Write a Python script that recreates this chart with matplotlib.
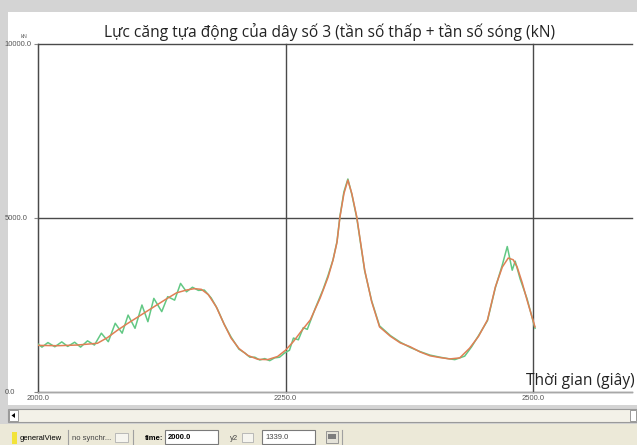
import numpy as np
import matplotlib
matplotlib.use('Agg')
import matplotlib.pyplot as plt
from matplotlib.patches import Rectangle, Polygon

W, H = 637, 445

# ── data ─────────────────────────────────────────────────
# low-frequency tension (orange)
time_lf = [2000, 2020, 2040, 2060, 2070, 2080, 2090, 2100, 2110, 2120, 2130,
           2140, 2150, 2158, 2165, 2172, 2180, 2188, 2195, 2203, 2212, 2222,
           2232, 2242, 2250, 2258, 2266, 2275, 2285, 2293, 2298, 2302, 2305,
           2309, 2313, 2317, 2322, 2330, 2337, 2345, 2356, 2366, 2376, 2386,
           2396, 2406, 2416, 2426, 2436, 2445, 2454, 2462, 2469, 2475, 2480,
           2484, 2489, 2494, 2502]
force_lf = [1340, 1330, 1350, 1400, 1560, 1770, 1960, 2140, 2320, 2500, 2680,
            2850, 2930, 2970, 2950, 2800, 2450, 1950, 1550, 1250, 1050, 940,
            930, 1020, 1200, 1450, 1750, 2070, 2700, 3300, 3790, 4300, 5030,
            5700, 6090, 5700, 5030, 3500, 2600, 1870, 1600, 1410, 1300, 1150,
            1040, 990, 950, 980, 1260, 1600, 2070, 3020, 3590, 3850, 3800,
            3590, 3150, 2640, 1870]

# total tension, low frequency + wave frequency (green)
time_total = [2000, 2004, 2010, 2017, 2024, 2030, 2037, 2043, 2050, 2057,
              2064, 2071, 2078, 2085, 2091, 2098, 2105, 2111, 2117, 2125,
              2131, 2138, 2144, 2150, 2156, 2162, 2168, 2175, 2181, 2188,
              2195, 2203, 2209, 2214, 2219, 2224, 2229, 2234, 2239, 2244,
              2249, 2254, 2258, 2263, 2268, 2272, 2280, 2288, 2293, 2298,
              2302, 2305, 2309, 2313, 2317, 2322, 2330, 2337, 2345, 2356,
              2366, 2376, 2386, 2396, 2406, 2414, 2421, 2431, 2438, 2445,
              2454, 2462, 2469, 2474, 2479, 2482, 2487, 2494, 2502]
force_total = [1380, 1290, 1420, 1300, 1440, 1310, 1430, 1290, 1470, 1350,
               1690, 1445, 1975, 1690, 2210, 1830, 2500, 2020, 2690, 2310,
               2740, 2640, 3120, 2880, 3010, 2920, 2930, 2700, 2400, 1950,
               1580, 1230, 1120, 1000, 1000, 920, 960, 900, 980, 1000,
               1120, 1200, 1550, 1500, 1850, 1800, 2400, 2950, 3350, 3800,
               4320, 5050, 5750, 6120, 5680, 5000, 3480, 2620, 1900, 1620,
               1430, 1280, 1160, 1060, 1000, 960, 930, 1030, 1300, 1620,
               2050, 3000, 3650, 4180, 3500, 3760, 3250, 2680, 1830]

x_ticks = [2000, 2250, 2500]
y_ticks = [0, 5000, 10000]

TITLE = 'Lực căng tựa động của dây số 3 (tần số thấp + tần số sóng (kN)'
XLABEL = 'Thời gian (giây)'
UNIT = 'kN'
TIME_VAL = '2000.0'
Y2_VAL = '1339.0'

# ── helpers in screen pixels ─────────────────────────────
fig = plt.figure(figsize=(W / 100, H / 100), dpi=100)
fig.patch.set_facecolor('#d4d4d4')


def box(x0, y0, x1, y1, fc, ec='none', lw=0.8, z=0):
    r = Rectangle((x0 / W, 1 - y1 / H), (x1 - x0) / W, (y1 - y0) / H,
                  transform=fig.transFigure, fc=fc, ec=ec, lw=lw, zorder=z)
    fig.add_artist(r)


def vline(x, y0, y1, color='#a0a0a0', lw=0.8):
    fig.add_artist(plt.Line2D([x / W, x / W], [1 - y0 / H, 1 - y1 / H],
                              transform=fig.transFigure, color=color, lw=lw))


def label(x, y, s, **kw):
    kw.setdefault('va', 'center')
    fig.text(x / W, 1 - y / H, s, **kw)


# white plot panel
box(8, 12, W, 405, 'white')

# ── main chart ───────────────────────────────────────────
ax = fig.add_axes([38 / W, 1 - 392 / H, (632 - 38) / W, (392 - 44) / H])
ax.set_facecolor('none')
ax.plot(time_total, force_total, color='#62c884', lw=1.1, zorder=3)
ax.plot(time_lf, force_lf, color='#e07f55', lw=1.1, zorder=4)
ax.set_xlim(2000, 2600)
ax.set_ylim(0, 10000)

ax.set_xticks(x_ticks, labels=[f'{v:.1f}' for v in x_ticks])
ax.set_yticks(y_ticks, labels=[f'{v:.1f}' for v in y_ticks])
ax.tick_params(axis='x', length=0, pad=2, labelsize=5.5, labelcolor='#555555')
ax.tick_params(axis='y', length=3, color='#888888', pad=21,
               labelsize=5.5, labelcolor='#555555')
for t in ax.get_yticklabels():
    t.set_ha('left')
    t.set_family('Liberation Sans')
for t in ax.get_xticklabels():
    t.set_family('Liberation Sans')

ax.grid(True, color='#4a4a4a', lw=1.0)
ax.set_axisbelow(True)
for gl in ax.get_xgridlines() + ax.get_ygridlines():
    gl.set_clip_on(False)
for side in ['top', 'right']:
    ax.spines[side].set_visible(False)
ax.spines['left'].set_color('#4a4a4a')
ax.spines['bottom'].set_color('#a8a8a8')

label(24, 37, UNIT, fontsize=4, color='#666666', ha='center',
      family='Liberation Sans')

label(329, 32, TITLE, fontsize=11.2, ha='center', color='#222222',
      family='Open Sans')
label(526, 381, XLABEL, fontsize=11.2, ha='left', color='#222222',
      family='Open Sans')

# ── scroll bar ───────────────────────────────────────────
box(8, 409, W, 422, '#f3f1e8', ec='#9a9a9a', lw=0.8)
box(9, 410, 18, 421, '#ffffff', ec='#8a8a8a', lw=0.6)
fig.add_artist(Polygon([[11.5 / W, 1 - 415.5 / H], [15 / W, 1 - 413 / H],
                        [15 / W, 1 - 418 / H]], closed=True,
                       transform=fig.transFigure, fc='black', ec='none'))
box(630, 410, 636, 421, '#ffffff', ec='#8a8a8a', lw=0.6)

# ── toolbar ──────────────────────────────────────────────
box(0, 424, W, H, '#ece9d8')
box(12, 432, 17, 444, '#f2e33a')
label(20, 438, 'generalView', fontsize=5.5, ha='left', family='Liberation Sans')
vline(68, 430, 445)
label(72, 438, 'no synchr...', fontsize=5.5, ha='left', color='#444444',
      family='Liberation Sans')
box(115, 433, 128, 442, '#f6f5ef', ec='#b0b0b0', lw=0.6)
vline(133, 430, 445)
label(145, 438, 'time:', fontsize=5.5, ha='left', weight='bold',
      family='Liberation Sans')
box(165, 430, 218, 444, 'white', ec='#7a7a7a', lw=0.8)
label(168, 437.5, TIME_VAL, fontsize=5.5, ha='left', weight='bold',
      family='Liberation Sans')
label(230, 438, 'y2', fontsize=5.5, ha='left', color='#444444',
      family='Liberation Sans')
box(242, 433, 253, 442, '#f6f5ef', ec='#b0b0b0', lw=0.6)
box(262, 430, 315, 444, 'white', ec='#7a7a7a', lw=0.8)
label(265, 437.5, Y2_VAL, fontsize=5.5, ha='left', color='#444444',
      family='Liberation Sans')
box(326, 431, 338, 443, '#e4e2d8', ec='#8a8a8a', lw=0.6)
box(328, 434, 336, 439, '#7d7d7d')
vline(342, 430, 445)

fig.savefig('out.png', dpi=100, facecolor=fig.get_facecolor())
